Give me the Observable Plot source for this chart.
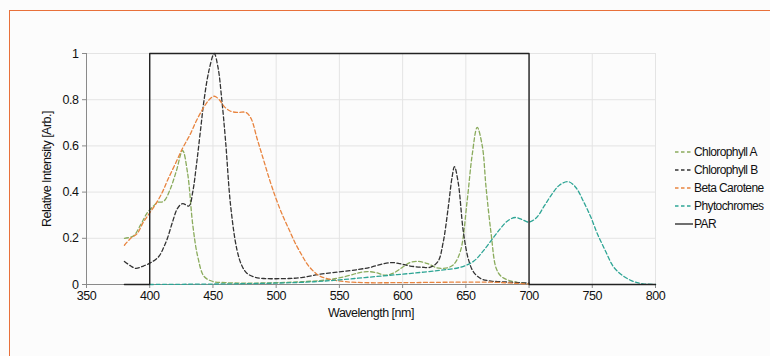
<!DOCTYPE html>
<html>
<head>
<meta charset="utf-8">
<script src="https://cdn.jsdelivr.net/npm/d3@7"></script>
<script src="https://cdn.jsdelivr.net/npm/@observablehq/plot@0.6"></script>
<style>
  html, body { margin: 0; padding: 0; background: #fcfcfc; }
  #wrap { position: relative; width: 770px; height: 356px; background: #fcfcfc; overflow: hidden;
          font-family: "Liberation Sans Narrow", "Liberation Sans", Arial, sans-serif; }
  #frame { position: absolute; left: 9px; top: 10px; width: 800px; height: 400px;
           border-top: 1.5px solid #e8703a; border-left: 1.5px solid #e8703a; }
  #chart { position: absolute; left: 0; top: 0; }
  #chart svg text { letter-spacing: -0.5px; }
  #legend { position: absolute; left: 675px; top: 143px; font-size: 12px; color: #111; letter-spacing: -0.6px; }
  .item { display: flex; align-items: center; height: 18px; }
  .item svg { margin-right: 1px; }
</style>
</head>
<body>
<div id="wrap"><div id="frame"></div><div id="chart"></div><div id="legend"></div></div>
<script>
// Tick values
const xTicks = [350, 400, 450, 500, 550, 600, 650, 700, 750, 800];
const yTicks = [0, 0.2, 0.4, 0.6, 0.8, 1];

// Series names and colours
const seriesNames = ["Chlorophyll A", "Chlorophyll B", "Beta Carotene", "Phytochromes", "PAR"];
const seriesColors = ["#8aab5c", "#333333", "#e8843f", "#2ea595", "#222222"];

// Chlorophyll A
const chlA_nm = [380,387,393,398,403,406,411,416,421,426,430,434,438,443,450,460,480,500,520,540,555,565,572,580,586,593,600,606,612,620,627,632,637,641,646,651,655,659,663,666,670,674,678,683,690,700];
const chlA_v  = [0.20,0.21,0.26,0.31,0.34,0.355,0.36,0.41,0.49,0.58,0.48,0.26,0.12,0.035,0.013,0.008,0.006,0.008,0.012,0.02,0.035,0.05,0.056,0.05,0.04,0.05,0.075,0.095,0.10,0.09,0.072,0.07,0.075,0.09,0.15,0.36,0.56,0.68,0.6,0.42,0.22,0.07,0.035,0.02,0.01,0.003];

// Chlorophyll B
const chlB_nm = [380,385,389,395,401,407,411,414,418,422,426,431,434,437,440,443,447,451,454,457,460,464,469,473,477,483,490,500,510,520,535,550,565,575,585,592,598,606,615,622,628,632,636,639,641,644,648,652,656,662,670,685,700];
const chlB_v  = [0.10,0.08,0.07,0.08,0.095,0.12,0.16,0.2,0.27,0.33,0.35,0.34,0.4,0.52,0.66,0.8,0.93,1.0,0.94,0.8,0.62,0.34,0.15,0.08,0.048,0.032,0.026,0.025,0.026,0.03,0.045,0.055,0.065,0.075,0.09,0.095,0.09,0.08,0.075,0.075,0.1,0.18,0.33,0.46,0.51,0.44,0.23,0.11,0.055,0.025,0.015,0.01,0.006];

// Beta Carotene
const beta_nm = [380,385,390,395,400,405,410,414,420,426,432,437,442,447,451,455,459,464,470,476,480,485,490,495,500,505,510,515,520,525,530,535,545,555,570,600,640,670,690,700];
const beta_v  = [0.17,0.2,0.22,0.27,0.31,0.35,0.4,0.45,0.52,0.59,0.65,0.71,0.76,0.8,0.815,0.8,0.77,0.75,0.745,0.745,0.72,0.63,0.54,0.45,0.37,0.3,0.24,0.18,0.13,0.085,0.055,0.035,0.02,0.012,0.008,0.008,0.01,0.01,0.005,0.002];

// Phytochromes
const phy_nm = [400,450,500,530,550,570,590,610,630,646,656,663,670,677,683,689,695,700,706,712,718,724,731,737,743,749,754,760,767,775,783,790,800];
const phy_v  = [0,0.002,0.006,0.012,0.02,0.03,0.04,0.05,0.062,0.075,0.10,0.14,0.19,0.24,0.275,0.29,0.28,0.27,0.29,0.34,0.39,0.43,0.445,0.42,0.36,0.29,0.22,0.15,0.075,0.035,0.012,0.003,0];

// PAR (photosynthetically active radiation)
const par_nm = [380,400,400,700,700,800];
const par_v  = [0,0,1,1,0,0];

const toRows = (nm, v) => nm.map((x, i) => ({x, y: v[i]}));
const dashed = [
  {rows: toRows(chlA_nm, chlA_v), color: seriesColors[0]},
  {rows: toRows(chlB_nm, chlB_v), color: seriesColors[1]},
  {rows: toRows(beta_nm, beta_v), color: seriesColors[2]},
  {rows: toRows(phy_nm, phy_v), color: seriesColors[3]}
];

const chart = Plot.plot({
  width: 770,
  height: 356,
  marginLeft: 86,
  marginRight: 115,
  marginTop: 53,
  marginBottom: 72,
  x: {domain: [350, 800]},
  y: {domain: [0, 1]},
  style: {background: "transparent", fontFamily: "'Liberation Sans Narrow', 'Liberation Sans', Arial, sans-serif", fontSize: "12.5px", color: "#111"},
  marks: [
    Plot.gridX(xTicks.slice(1), {stroke: "#e4e4e4", strokeOpacity: 1}),
    Plot.gridY(yTicks.slice(1), {stroke: "#e4e4e4", strokeOpacity: 1}),
    Plot.ruleY([0], {stroke: "#8a8a8a"}),
    Plot.ruleX([350], {stroke: "#8a8a8a"}),
    Plot.axisX(xTicks, {tickSize: 4, stroke: "#8a8a8a", fill: "#111", tickPadding: 3, label: "Wavelength [nm]", labelAnchor: "center", labelArrow: "none", labelOffset: 32}),
    Plot.axisY(yTicks, {tickSize: 4, stroke: "#8a8a8a", fill: "#111", tickPadding: 4, tickFormat: d => String(d), label: "Relative Intensity [Arb.]", labelAnchor: "center", labelArrow: "none", labelOffset: 44}),
    ...dashed.map(s => Plot.line(s.rows, {x: "x", y: "y", stroke: s.color, strokeWidth: 1.3, strokeDasharray: "4,2.5", curve: "catmull-rom"})),
    Plot.line(toRows(par_nm, par_v), {x: "x", y: "y", stroke: seriesColors[4], strokeWidth: 1.4})
  ]
});
document.getElementById("chart").appendChild(chart);

// Legend
const legend = document.getElementById("legend");
seriesNames.forEach((name, i) => {
  const item = document.createElement("div");
  item.className = "item";
  const dash = i < 4 ? "3.5,2.5" : "none";
  item.innerHTML = `<svg width="18" height="10"><line x1="0" y1="5" x2="18" y2="5" stroke="${seriesColors[i]}" stroke-width="1.3" stroke-dasharray="${dash}"/></svg><span>${name}</span>`;
  legend.appendChild(item);
});
</script>
</body>
</html>
